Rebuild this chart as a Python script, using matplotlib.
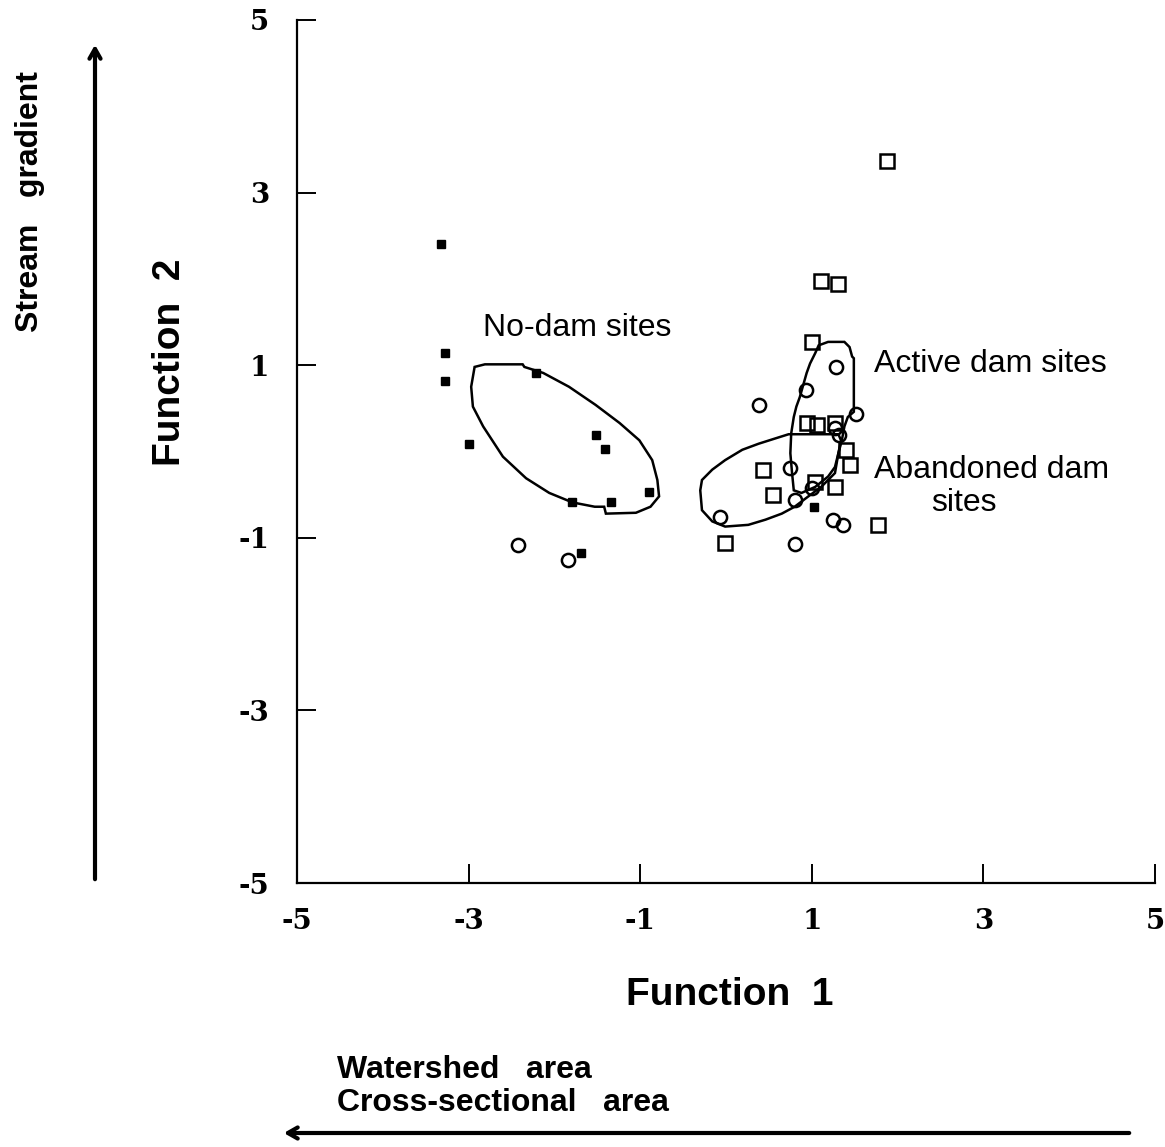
import matplotlib
matplotlib.use("Agg")
import matplotlib.pyplot as plt
from matplotlib.patches import Polygon, FancyArrowPatch

# ---------------- data ----------------
nodam_x = [-3.32, -3.27, -3.28, -3.00, -2.22, -1.52, -1.41, -1.79, -1.34, -0.90, -1.69, 1.03]
nodam_y = [2.40, 1.14, 0.82, 0.09, 0.91, 0.19, 0.03, -0.59, -0.59, -0.47, -1.18, -0.64]

abandoned_x = [-2.42, -1.84, 1.28, 0.93, 0.38, 1.51, 1.27, 1.32, 0.75, 0.80, 1.00,
               -0.07, 1.25, 1.36, 0.80]
abandoned_y = [-1.08, -1.26, 0.98, 0.71, 0.54, 0.43, 0.27, 0.19, -0.19, -0.56, -0.42,
               -0.76, -0.79, -0.85, -1.07]

active_x = [1.88, 1.11, 1.31, 1.00, 0.94, 1.06, 1.27, 1.40, 1.44, 0.43, 0.55, 1.04,
            1.27, 1.77, -0.01]
active_y = [3.37, 1.98, 1.94, 1.27, 0.33, 0.31, 0.33, 0.02, -0.16, -0.21, -0.50, -0.35,
            -0.41, -0.85, -1.06]

# group outlines (data coordinates)
nodam_outline_x = [-2.93, -2.81, -2.37, -2.35, -2.13, -1.83, -1.52, -1.24, -1.01, -0.86,
                   -0.80, -0.78, -0.88, -1.05, -1.40, -1.42, -1.53, -1.79, -2.06, -2.33,
                   -2.60, -2.83, -2.95, -2.97]
nodam_outline_y = [0.98, 1.01, 1.01, 0.98, 0.91, 0.75, 0.54, 0.33, 0.13, -0.10,
                   -0.33, -0.52, -0.64, -0.71, -0.72, -0.64, -0.64, -0.59, -0.48, -0.31,
                   -0.06, 0.29, 0.52, 0.75]

active_outline_x = [1.08, 1.19, 1.38, 1.44, 1.47, 1.49, 1.49, 1.42, 1.38, 1.35, 1.31,
                    1.27, 1.19, 1.04, 0.88, 0.79, 0.77, 0.75, 0.76, 0.79, 0.82, 0.86,
                    0.94, 0.98, 1.04]
active_outline_y = [1.23, 1.27, 1.27, 1.21, 1.10, 1.08, 0.46, 0.40, 0.29, 0.13, -0.02,
                    -0.18, -0.29, -0.41, -0.48, -0.45, -0.25, -0.02, 0.21, 0.40, 0.52,
                    0.63, 0.91, 1.02, 1.14]

abandoned_outline_x = [-0.30, -0.28, -0.16, -0.01, 0.19, 0.38, 0.57, 0.73, 1.31, 1.34,
                       1.31, 1.27, 1.11, 0.96, 0.80, 0.65, 0.46, 0.26, -0.01, -0.16, -0.28]
abandoned_outline_y = [-0.45, -0.33, -0.21, -0.10, 0.02, 0.09, 0.15, 0.20, 0.20, 0.13,
                       -0.02, -0.25, -0.41, -0.52, -0.64, -0.72, -0.79, -0.85, -0.87, -0.81,
                       -0.68]

ticks = [-5, -3, -1, 1, 3, 5]
tick_labels = ["-5", "-3", "-1", "1", "3", "5"]

# ---------------- figure ----------------
W, H = 1165, 1147
fig = plt.figure(figsize=(W / 100, H / 100), dpi=100)
ax = fig.add_axes([297 / W, 1 - 883 / H, (1155 - 297) / W, (883 - 20) / H])

ax.set_xlim(-5, 5)
ax.set_ylim(-5, 5)
for s in ["top", "right"]:
    ax.spines[s].set_visible(False)
for s in ["left", "bottom"]:
    ax.spines[s].set_linewidth(1.6)

ax.set_xticks(ticks)
ax.set_yticks(ticks)
ax.set_xticklabels(tick_labels)
ax.set_yticklabels(tick_labels)
ax.tick_params(direction="in", length=14, width=1.4)
ax.tick_params(axis="y", pad=20)
ax.tick_params(axis="x", pad=18)
for lab in ax.get_xticklabels() + ax.get_yticklabels():
    lab.set_fontfamily("DejaVu Serif")
    lab.set_fontweight("bold")
    lab.set_fontsize(20)

# outlines
for ox, oy in [(nodam_outline_x, nodam_outline_y),
               (active_outline_x, active_outline_y),
               (abandoned_outline_x, abandoned_outline_y)]:
    ax.add_patch(Polygon(list(zip(ox, oy)), closed=True, fill=False,
                         edgecolor="black", linewidth=1.8, joinstyle="miter"))

# points
ax.plot(nodam_x, nodam_y, ls="none", marker="s", ms=5.5, mfc="black", mec="black")
ax.plot(abandoned_x, abandoned_y, ls="none", marker="o", ms=9.5, mfc="none",
        mec="black", mew=1.8)
ax.plot(active_x, active_y, ls="none", marker="s", ms=10, mfc="none",
        mec="black", mew=1.8)

sans = ["Liberation Sans", "DejaVu Sans"]

ax.text(-1.73, 1.43, "No-dam sites", fontsize=23, family=sans, ha="center", va="center")
ax.text(1.73, 1.01, "Active dam sites", fontsize=23, family=sans, ha="left", va="center")
ax.text(1.72, -0.21, "Abandoned dam", fontsize=23, family=sans, ha="left", va="center")
ax.text(2.77, -0.60, "sites", fontsize=23, family=sans, ha="center", va="center")

# axis titles
fig.text(730 / W, 1 - 995 / H, "Function  1", fontsize=28, fontweight="bold",
         family=sans, ha="center", va="center")
fig.text(170 / W, 1 - 362 / H, "Function  2", fontsize=28, fontweight="bold",
         family=sans, ha="center", va="center", rotation=90)
fig.text(30 / W, 1 - 202 / H, "Stream   gradient", fontsize=23, fontweight="bold",
         family=sans, ha="center", va="center", rotation=90)
fig.text(337 / W, 1 - 1070 / H, "Watershed   area", fontsize=23, fontweight="bold",
         family=sans, ha="left", va="center")
fig.text(337 / W, 1 - 1103 / H, "Cross-sectional   area", fontsize=23, fontweight="bold",
         family=sans, ha="left", va="center")

# direction arrows
fig.add_artist(FancyArrowPatch(
    (95 / W, 1 - 882 / H), (95 / W, 1 - 42 / H), transform=fig.transFigure,
    arrowstyle="->,head_length=7,head_width=4", linewidth=3, color="black",
    mutation_scale=1))
fig.add_artist(FancyArrowPatch(
    (1132 / W, 1 - 1133 / H), (281 / W, 1 - 1133 / H), transform=fig.transFigure,
    arrowstyle="->,head_length=7,head_width=4", linewidth=3, color="black",
    mutation_scale=1))

fig.savefig("out.png", dpi=100)
